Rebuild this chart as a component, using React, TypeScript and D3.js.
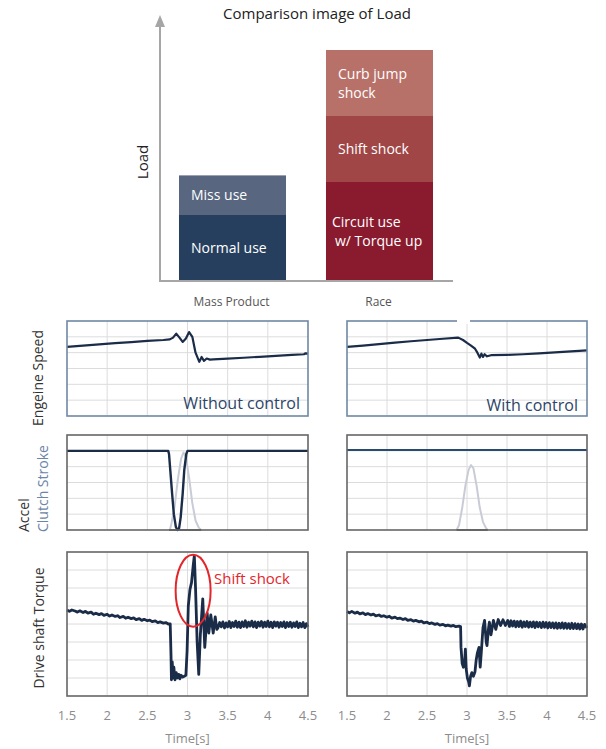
import React from "react";
import * as d3 from "d3";

// ---------- Top chart data ----------
const loadCategories = ["Mass Product", "Race"];
const massSegments = ["Normal use", "Miss use"];
const massValues = [2.0, 1.2];
const raceSegments = ["Circuit use|w/ Torque up", "Shift shock", "Curb jump|shock"];
const raceValues = [3.0, 2.0, 2.0];
const loadAxisMax = 8;

// ---------- Time series data ----------
const timeTicks = [1.5, 2, 2.5, 3, 3.5, 4, 4.5];

const engineWithout: [number, number][] = [
  [1.5, 4.36], [1.7, 4.44], [1.9, 4.52], [2.1, 4.6], [2.3, 4.66], [2.5, 4.74], [2.7, 4.8],
  [2.78, 4.84], [2.82, 4.95], [2.86, 5.2], [2.9, 4.95], [2.94, 4.68], [2.98, 4.9], [3.02, 5.3],
  [3.06, 5.0], [3.1, 4.0], [3.147, 3.42], [3.176, 3.73], [3.205, 3.48], [3.239, 3.63],
  [3.28, 3.56], [3.32, 3.58], [3.5, 3.62], [3.7, 3.68], [3.9, 3.74], [4.1, 3.8], [4.3, 3.86],
  [4.45, 3.9], [4.47, 3.96], [4.5, 3.94],
];

const engineWith: [number, number][] = [
  [1.5, 4.36], [1.7, 4.45], [1.9, 4.54], [2.1, 4.63], [2.3, 4.72], [2.5, 4.8], [2.7, 4.88],
  [2.89, 4.95], [2.95, 4.8], [3.0, 4.62], [3.05, 4.45], [3.1, 4.25], [3.13, 4.0], [3.16, 3.69],
  [3.18, 3.94], [3.2, 3.73], [3.22, 3.9], [3.25, 3.77], [3.3, 3.84], [3.5, 3.86], [3.7, 3.9],
  [3.9, 3.96], [4.1, 4.02], [4.3, 4.08], [4.5, 4.15],
];

const accelWithout: [number, number][] = [
  [1.5, 5], [2.76, 5], [2.77, 4.8], [2.79, 3.5], [2.81, 2.2], [2.83, 1.0], [2.855, 0.2],
  [2.875, 0], [2.895, 0.1], [2.915, 0.8], [2.94, 2.3], [2.96, 3.8], [2.985, 4.8], [3.0, 5], [4.5, 5],
];
const clutchWithout: [number, number][] = [
  [2.78, 0], [2.8, 0.4], [2.84, 1.5], [2.88, 3.2], [2.92, 4.5], [2.95, 4.9], [2.98, 4.6],
  [3.02, 3.3], [3.06, 1.7], [3.1, 0.6], [3.14, 0.15], [3.17, 0],
];
const baseWithout: [number, number][] = [[2.77, 0], [3.17, 0]];

const accelWith: [number, number][] = [[1.5, 5.05], [4.5, 5.05]];
const clutchWith: [number, number][] = [
  [2.87, 0], [2.9, 0.3], [2.94, 1.4], [2.98, 2.8], [3.02, 3.8], [3.05, 4.1], [3.08, 3.9],
  [3.12, 2.8], [3.16, 1.4], [3.2, 0.5], [3.24, 0.1], [3.26, 0],
];
const baseWith: [number, number][] = [[2.87, 0], [3.26, 0]];

const torqueWithout: [number, number][] = [
  [1.5, 4.78], [1.53, 4.7], [1.56, 4.78], [1.6, 4.72], [1.63, 4.66], [1.66, 4.73], [1.7, 4.64],
  [1.73, 4.7], [1.76, 4.6], [1.8, 4.66], [1.83, 4.54], [1.86, 4.6], [1.9, 4.52], [1.93, 4.58],
  [1.96, 4.48], [2.0, 4.54], [2.03, 4.44], [2.06, 4.5], [2.1, 4.42], [2.13, 4.46], [2.16, 4.36],
  [2.2, 4.42], [2.23, 4.32], [2.26, 4.38], [2.3, 4.3], [2.33, 4.34], [2.36, 4.24], [2.4, 4.3],
  [2.43, 4.2], [2.46, 4.26], [2.5, 4.18], [2.53, 4.22], [2.56, 4.13], [2.6, 4.17], [2.63, 4.08],
  [2.66, 4.12], [2.7, 4.05], [2.73, 4.08], [2.76, 4.0], [2.785, 4.0],
  [2.795, 2.2], [2.8, 0.9], [2.81, 1.9], [2.82, 1.0], [2.83, 1.6], [2.845, 0.9], [2.86, 1.3],
  [2.875, 1.0], [2.89, 1.2], [2.905, 0.95], [2.92, 1.15], [2.94, 1.05], [2.96, 1.1], [2.98, 1.15],
  [2.995, 2.5], [3.01, 5.0], [3.03, 5.9], [3.05, 6.3], [3.07, 7.2], [3.085, 7.8], [3.1, 6.0],
  [3.12, 3.0], [3.14, 1.2], [3.16, 3.4], [3.19, 5.4], [3.215, 2.7], [3.245, 4.6], [3.265, 3.5],
  [3.29, 4.5], [3.32, 3.5], [3.345, 4.4], [3.365, 3.7],
  [3.38, 3.8], [3.4, 4.08], [3.42, 3.84], [3.44, 4.12], [3.46, 3.78], [3.48, 4.06], [3.5, 3.84],
  [3.52, 4.14], [3.54, 3.8], [3.56, 4.08], [3.58, 3.86], [3.6, 4.16], [3.62, 3.82], [3.64, 4.1],
  [3.66, 3.8], [3.68, 4.12], [3.7, 3.86], [3.72, 4.18], [3.74, 3.82], [3.76, 4.1], [3.78, 3.88],
  [3.8, 4.16], [3.82, 3.84], [3.84, 4.12], [3.86, 3.8], [3.88, 4.1], [3.9, 3.88], [3.92, 4.14],
  [3.94, 3.82], [3.96, 4.1], [3.98, 3.86], [4.0, 4.16], [4.02, 3.84], [4.04, 4.1], [4.06, 3.8],
  [4.08, 4.12], [4.1, 3.88], [4.12, 4.1], [4.14, 3.82], [4.16, 4.08], [4.18, 3.86], [4.2, 4.12],
  [4.22, 3.8], [4.24, 4.08], [4.26, 3.86], [4.28, 4.1], [4.3, 3.82], [4.32, 4.06], [4.34, 3.86],
  [4.36, 4.12], [4.38, 3.8], [4.4, 4.04], [4.42, 3.84], [4.44, 4.08], [4.46, 3.8], [4.48, 4.02],
  [4.5, 3.84],
];

const torqueWith: [number, number][] = [
  [1.5, 4.7], [1.53, 4.62], [1.56, 4.7], [1.6, 4.6], [1.63, 4.66], [1.66, 4.56], [1.7, 4.62],
  [1.73, 4.52], [1.76, 4.58], [1.8, 4.5], [1.83, 4.55], [1.86, 4.45], [1.9, 4.5], [1.93, 4.42],
  [1.96, 4.46], [2.0, 4.38], [2.03, 4.43], [2.06, 4.33], [2.1, 4.38], [2.13, 4.3], [2.16, 4.33],
  [2.2, 4.25], [2.23, 4.3], [2.26, 4.2], [2.3, 4.24], [2.33, 4.16], [2.36, 4.2], [2.4, 4.12],
  [2.43, 4.16], [2.46, 4.06], [2.5, 4.1], [2.53, 4.02], [2.56, 4.06], [2.6, 3.98], [2.63, 4.02],
  [2.66, 3.94], [2.7, 3.98], [2.73, 3.9], [2.76, 3.94], [2.8, 3.88], [2.83, 3.92], [2.86, 3.85],
  [2.9, 3.88], [2.92, 3.85],
  [2.925, 2.7], [2.94, 1.8], [2.955, 1.6], [2.97, 1.9], [2.98, 2.6], [2.99, 1.5], [3.005, 1.0],
  [3.02, 0.8], [3.03, 0.56], [3.045, 1.1], [3.06, 1.3], [3.08, 1.1], [3.1, 1.35], [3.115, 2.0],
  [3.13, 2.4], [3.15, 2.7], [3.165, 1.6], [3.18, 2.5], [3.2, 3.8], [3.22, 4.2], [3.24, 3.0],
  [3.25, 2.8], [3.27, 3.8], [3.28, 4.1], [3.3, 3.4], [3.33, 4.2], [3.36, 3.7], [3.39, 4.25],
  [3.42, 3.92], [3.45, 4.24], [3.48, 3.92], [3.51, 4.2], [3.53, 3.86], [3.55, 4.18], [3.57, 3.88],
  [3.59, 4.16], [3.61, 3.84], [3.63, 4.14], [3.65, 3.86], [3.67, 4.16], [3.69, 3.82], [3.71, 4.12],
  [3.73, 3.86], [3.75, 4.14], [3.77, 3.82], [3.79, 4.1], [3.81, 3.84], [3.83, 4.12], [3.85, 3.8],
  [3.87, 4.1], [3.89, 3.84], [3.91, 4.08], [3.93, 3.8], [3.95, 4.1], [3.97, 3.82], [3.99, 4.08],
  [4.01, 3.78], [4.03, 4.08], [4.05, 3.8], [4.07, 4.06], [4.09, 3.78], [4.11, 4.06], [4.13, 3.76],
  [4.15, 4.04], [4.17, 3.78], [4.19, 4.06], [4.21, 3.76], [4.23, 4.04], [4.25, 3.76], [4.27, 4.02],
  [4.29, 3.74], [4.31, 4.04], [4.33, 3.74], [4.35, 4.02], [4.37, 3.74], [4.39, 4.0], [4.41, 3.72],
  [4.43, 4.0], [4.45, 3.72], [4.47, 3.98], [4.5, 3.78],
];

const FONT = "'Open Sans', sans-serif";
const NAVY = "#1b2c48";

const segColors: Record<string, string> = {
  "Normal use": "#273f5e",
  "Miss use": "#586680",
  "Circuit use|w/ Torque up": "#8a1b2f",
  "Shift shock": "#a04646",
  "Curb jump|shock": "#b87169",
};

type Series = { data: [number, number][]; color: string; width: number };

function Panel(props: {
  x0: number; x1: number; y0: number; y1: number; yMax: number;
  frame: string; series: Series[]; children?: React.ReactNode;
  showTicks?: boolean;
}) {
  const { x0, x1, y0, y1, yMax, frame, series, showTicks } = props;
  const x = d3.scaleLinear().domain([1.5, 4.5]).range([x0, x1]);
  const y = d3.scaleLinear().domain([0, yMax]).range([y1, y0]);
  const line = d3.line<[number, number]>().x((d) => x(d[0])).y((d) => y(d[1])).curve(d3.curveLinear);
  const rows = d3.range(1, yMax);
  return (
    <g>
      {timeTicks.slice(1, -1).map((t) => (
        <line key={"v" + t} x1={x(t)} x2={x(t)} y1={y0} y2={y1} stroke="#dcdcdc" strokeWidth={1} />
      ))}
      {rows.map((r) => (
        <line key={"h" + r} x1={x0} x2={x1} y1={y(r)} y2={y(r)} stroke="#dcdcdc" strokeWidth={1} />
      ))}
      {series.map((s, i) => (
        <path key={i} d={line(s.data) || ""} fill="none" stroke={s.color} strokeWidth={s.width}
          strokeLinejoin="round" />
      ))}
      <rect x={x0} y={y0} width={x1 - x0} height={y1 - y0} fill="none" stroke={frame} strokeWidth={1.6} />
      {showTicks && timeTicks.map((t) => (
        <text key={"t" + t} x={x(t)} y={720} textAnchor="middle" fontSize={13} fill="#8c8c8c"
          fontFamily={FONT}>{String(t)}</text>
      ))}
      {showTicks && (
        <text x={(x0 + x1) / 2} y={743} textAnchor="middle" fontSize={13} fill="#8c8c8c"
          fontFamily={FONT}>Time[s]</text>
      )}
      {props.children}
    </g>
  );
}

function LoadChart() {
  const base = 281;
  const yL = d3.scaleLinear().domain([0, loadAxisMax]).range([base, 17]);
  const xB = d3.scaleBand<string>().domain(loadCategories).range([159, 453])
    .paddingInner(0.272).paddingOuter(0.136);
  const stacks = [
    { cat: loadCategories[0], names: massSegments, vals: massValues },
    { cat: loadCategories[1], names: raceSegments, vals: raceValues },
  ];
  const lh = 19;
  return (
    <g fontFamily={FONT}>
      <text x={317} y={19} textAnchor="middle" fontSize={15} fill="#222">Comparison image of Load</text>
      {stacks.map((st) => {
        let acc = 0;
        const bx = xB(st.cat) || 0;
        const bw = xB.bandwidth();
        return st.names.map((n, i) => {
          const v0 = acc;
          acc += st.vals[i];
          const yt = yL(acc);
          const yb = yL(v0);
          const lines = n.split("|");
          const isCircuit = n.startsWith("Circuit");
          const tx = isCircuit ? bx + 6 : bx + 12;
          const h = yb - yt;
          const cy = yt + h / 2;
          return (
            <g key={n}>
              <rect x={bx} y={yt} width={bw} height={h} fill={segColors[n]} />
              <text y={cy - ((lines.length - 1) / 2) * lh + 5} fontSize={14} fill="#ffffff">
                {lines.map((ln, k) => (
                  <tspan key={k} x={tx + (isCircuit && k === 1 ? 3 : 0)} dy={k === 0 ? 0 : lh}>{ln}</tspan>
                ))}
              </text>
            </g>
          );
        });
      })}
      <line x1={160} x2={160} y1={base} y2={25} stroke="#a6a6a6" strokeWidth={2} />
      <path d={`M160,15 L155,27 L165,27 Z`} fill="#a6a6a6" />
      <line x1={159} x2={453} y1={base} y2={base} stroke="#a6a6a6" strokeWidth={2} />
      <text transform="translate(142,162) rotate(-90)" textAnchor="middle" dominantBaseline="central"
        fontSize={15} fill="#222">Load</text>
      {loadCategories.map((c) => (
        <text key={c} x={(xB(c) || 0) + xB.bandwidth() / 2 - 1} y={306} textAnchor="middle" fontSize={12}
          fill="#555">{c}</text>
      ))}
    </g>
  );
}

export default function App() {
  const L = { x0: 67, x1: 308 };
  const R = { x0: 347, x1: 587 };
  const ENG = { y0: 321, y1: 416 };
  const ACC = { y0: 435, y1: 530 };
  const TOR = { y0: 552, y1: 696 };
  const xl = d3.scaleLinear().domain([1.5, 4.5]).range([L.x0, L.x1]);
  const yt = d3.scaleLinear().domain([0, 8]).range([TOR.y1, TOR.y0]);
  return (
    <svg width={606} height={749} style={{ position: "absolute", left: 0, top: 0, background: "#fff" }}
      fontFamily={FONT}>
      <rect width={606} height={749} fill="#fff" />
      <LoadChart />

      {/* Engine speed */}
      <Panel {...L} {...ENG} yMax={6} frame="#6f89a6"
        series={[{ data: engineWithout, color: NAVY, width: 2.2 }]}>
        <text x={L.x1 - 8} y={409} textAnchor="end" fontSize={16} fill="#2d4468">Without control</text>
      </Panel>
      <Panel {...R} {...ENG} yMax={6} frame="#6f89a6"
        series={[{ data: engineWith, color: NAVY, width: 2.2 }]}>
        <text x={R.x1 - 9} y={411} textAnchor="end" fontSize={16} fill="#2d4468">With control</text>
        <rect x={457} y={318} width={13} height={6} fill="#fff" />
      </Panel>

      {/* Accel / clutch */}
      <Panel {...L} {...ACC} yMax={6} frame="#666"
        series={[
          { data: clutchWithout, color: "#c9ccd6", width: 2 },
          { data: baseWithout, color: "#666", width: 2 },
          { data: accelWithout, color: NAVY, width: 2.4 },
        ]} />
      <Panel {...R} {...ACC} yMax={6} frame="#666"
        series={[
          { data: clutchWith, color: "#c9ccd6", width: 2 },
          { data: baseWith, color: "#666", width: 2 },
          { data: accelWith, color: "#2a4a70", width: 2 },
        ]} />

      {/* Torque */}
      <Panel {...L} {...TOR} yMax={8} frame="#666" showTicks
        series={[{ data: torqueWithout, color: NAVY, width: 2.8 }]}>
        <ellipse cx={xl(3.07)} cy={yt(5.85)} rx={17.5} ry={yt(0) - yt(2)} fill="none" stroke="#e3262b"
          strokeWidth={2} />
        <text x={214} y={584} fontSize={15} fill="#e3262b">Shift shock</text>
      </Panel>
      <Panel {...R} {...TOR} yMax={8} frame="#666" showTicks
        series={[{ data: torqueWith, color: NAVY, width: 2.8 }]} />

      {/* Y labels */}
      <text transform="translate(37,378) rotate(-90)" textAnchor="middle" dominantBaseline="central"
        fontSize={14} fill="#333">Engeine Speed</text>
      <text transform="translate(23,532) rotate(-90)" textAnchor="start" dominantBaseline="central"
        fontSize={14} fill="#333">Accel</text>
      <text transform="translate(42,532) rotate(-90)" textAnchor="start" dominantBaseline="central"
        fontSize={14} fill="#6b85a8">Clutch Stroke</text>
      <text transform="translate(38,628) rotate(-90)" textAnchor="middle" dominantBaseline="central"
        fontSize={14} fill="#333">Drive shaft Torque</text>
    </svg>
  );
}
